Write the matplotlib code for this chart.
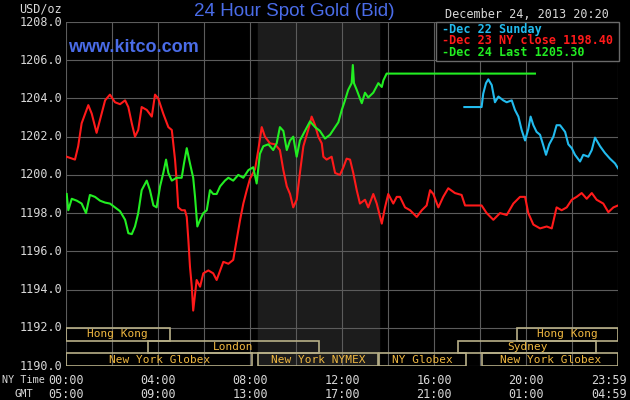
import matplotlib
matplotlib.use("Agg")
import matplotlib.pyplot as plt
from matplotlib.patches import Rectangle
import matplotlib.transforms as mtransforms

# hours since 00:00 NY time, price in USD/oz
dec23_t = [0.03, 0.39, 0.53, 0.68, 0.97, 1.12, 1.33, 1.55, 1.70, 1.91, 2.13, 2.35, 2.57, 2.71,
           2.86, 3.0, 3.14, 3.29, 3.51, 3.73, 3.87, 4.01, 4.23, 4.45, 4.60, 4.74, 4.81, 4.88,
           5.03, 5.17, 5.25, 5.32, 5.39, 5.47, 5.53, 5.68, 5.83, 5.97, 6.19, 6.40, 6.55, 6.70,
           6.84, 7.06, 7.27, 7.42, 7.57, 7.71, 7.86, 8.0, 8.22, 8.36, 8.51, 8.65, 8.87, 9.09,
           9.30, 9.45, 9.60, 9.74, 9.88, 10.03, 10.17, 10.32, 10.53, 10.68, 10.83, 10.97, 11.12,
           11.19, 11.33, 11.55, 11.70, 11.91, 12.06, 12.20, 12.35, 12.49, 12.64, 12.78, 13.0,
           13.14, 13.36, 13.51, 13.73, 13.87, 14.01, 14.23, 14.38, 14.52, 14.74, 14.96, 15.25,
           15.47, 15.68, 15.83, 15.97, 16.19, 16.40, 16.62, 16.91, 17.20, 17.35, 18.07, 18.29,
           18.58, 18.87, 19.16, 19.45, 19.74, 19.96, 20.10, 20.32, 20.61, 20.90, 21.12, 21.33,
           21.55, 21.77, 21.99, 22.20, 22.42, 22.64, 22.86, 23.07, 23.36, 23.58, 23.80, 24.0]
dec23_v = [1200.95, 1200.8, 1201.5, 1202.7, 1203.65, 1203.2, 1202.2, 1203.2, 1203.9, 1204.2,
           1203.8, 1203.7, 1203.9, 1203.55, 1202.7, 1202.0, 1202.35, 1203.55, 1203.4, 1203.05,
           1204.2, 1204.0, 1203.2, 1202.5, 1202.35, 1200.8, 1199.7, 1198.3, 1198.15, 1198.15,
           1197.8, 1196.6, 1195.2, 1194.15, 1192.9, 1194.5, 1194.15, 1194.85, 1195.0, 1194.85,
           1194.5, 1195.0, 1195.45, 1195.35, 1195.55, 1196.6, 1197.65, 1198.5, 1199.2, 1199.8,
           1200.3, 1201.3, 1202.5, 1202.0, 1201.65, 1201.6, 1201.3, 1200.25, 1199.4, 1199.0,
           1198.3, 1198.7, 1200.1, 1201.5, 1202.35, 1203.05, 1202.6, 1202.0, 1201.65, 1200.95,
           1200.8, 1200.95, 1200.1, 1200.0, 1200.4, 1200.85, 1200.8, 1200.1, 1199.2, 1198.5,
           1198.7, 1198.3, 1199.0, 1198.5, 1197.45, 1198.3, 1199.0, 1198.5, 1198.85, 1198.85,
           1198.3, 1198.15, 1197.8, 1198.15, 1198.4, 1199.2, 1199.0, 1198.3, 1198.85, 1199.3,
           1199.05, 1198.95, 1198.4, 1198.4, 1198.0, 1197.65, 1198.0, 1197.9, 1198.5, 1198.85,
           1198.85, 1198.0, 1197.4, 1197.2, 1197.3, 1197.2, 1198.3, 1198.15, 1198.3, 1198.7,
           1198.85, 1199.05, 1198.75, 1199.05, 1198.7, 1198.5, 1198.05, 1198.3, 1198.4]

dec24_t = [0.03, 0.10, 0.25, 0.47, 0.68, 0.87, 1.04, 1.26, 1.48, 1.70, 1.91, 2.13, 2.35, 2.57,
           2.71, 2.86, 3.0, 3.14, 3.29, 3.51, 3.65, 3.80, 3.94, 4.09, 4.23, 4.35, 4.45, 4.60,
           4.81, 5.03, 5.13, 5.25, 5.39, 5.53, 5.61, 5.71, 5.83, 5.97, 6.12, 6.26, 6.40, 6.55,
           6.70, 6.91, 7.06, 7.27, 7.49, 7.71, 7.93, 8.14, 8.29, 8.43, 8.58, 8.80, 9.01, 9.16,
           9.30, 9.45, 9.60, 9.74, 9.88, 10.03, 10.17, 10.39, 10.61, 10.83, 11.04, 11.26, 11.48,
           11.70, 11.84, 11.99, 12.13, 12.27, 12.42, 12.47, 12.52, 12.64, 12.78, 12.86, 13.0,
           13.14, 13.36, 13.58, 13.73, 13.80, 13.94, 20.39]
dec24_v = [1199.0, 1198.15, 1198.75, 1198.65, 1198.5, 1198.0, 1198.95, 1198.85, 1198.65,
           1198.55, 1198.5, 1198.3, 1198.1, 1197.65, 1196.95, 1196.9, 1197.3, 1198.0, 1199.2,
           1199.7, 1199.2, 1198.4, 1198.3, 1199.4, 1200.1, 1200.8, 1200.1, 1199.7, 1199.85,
           1199.85, 1200.6, 1201.4, 1200.6, 1199.85, 1198.85, 1197.3, 1197.65, 1198.0, 1198.15,
           1199.2, 1199.0, 1199.0, 1199.4, 1199.7, 1199.85, 1199.7, 1200.0, 1199.85, 1200.25,
           1200.4, 1199.55, 1201.1, 1201.5, 1201.6, 1201.3, 1201.65, 1202.5, 1202.3, 1201.3,
           1201.8, 1202.0, 1200.95, 1201.8, 1202.3, 1202.8, 1202.5, 1202.3, 1201.9, 1202.1,
           1202.5, 1202.75, 1203.4, 1203.9, 1204.45, 1204.8, 1205.75, 1204.8, 1204.45, 1204.0,
           1203.75, 1204.3, 1204.05, 1204.3, 1204.8, 1204.6, 1204.95, 1205.3, 1205.3]

dec22_t = [17.32, 18.07, 18.14, 18.26, 18.36, 18.51, 18.65, 18.80, 19.01, 19.16, 19.38, 19.52,
           19.67, 19.81, 19.96, 20.10, 20.20, 20.32, 20.46, 20.61, 20.75, 20.87, 21.01, 21.19,
           21.33, 21.48, 21.70, 21.84, 21.99, 22.13, 22.35, 22.49, 22.71, 22.86, 23.0, 23.22,
           23.43, 23.65, 23.87, 24.0]
dec22_v = [1203.55, 1203.55, 1204.25, 1204.8, 1205.0, 1204.7, 1203.8, 1204.1, 1203.9, 1203.8,
           1203.9, 1203.4, 1203.05, 1202.35, 1201.8, 1202.4, 1203.05, 1202.6, 1202.25, 1202.1,
           1201.55, 1201.05, 1201.6, 1202.0, 1202.6, 1202.6, 1202.25, 1201.6, 1201.4, 1201.05,
           1200.7, 1201.05, 1200.95, 1201.3, 1201.95, 1201.5, 1201.15, 1200.85, 1200.6, 1200.35]

y_ticks = [1190, 1192, 1194, 1196, 1198, 1200, 1202, 1204, 1206, 1208]
x_ticks = [0, 4, 8, 12, 16, 20, 23.6]
ny_labels = ['00:00', '04:00', '08:00', '12:00', '16:00', '20:00', '23:59']
gmt_labels = ['05:00', '09:00', '13:00', '17:00', '21:00', '01:00', '04:59']

# trading sessions: name, row (0 = top), start, end
sessions = [
    ('Hong Kong', 0, 0.0, 4.5),
    ('Hong Kong', 0, 19.6, 24.0),
    ('London', 1, 3.55, 11.0),
    ('Sydney', 1, 17.05, 23.05),
    ('New York Globex', 2, 0.0, 8.1),
    ('New York NYMEX', 2, 8.35, 13.55),
    ('NY Globex', 2, 13.6, 17.4),
    ('New York Globex', 2, 18.1, 24.0),
]

mono = 'DejaVu Sans Mono'
grey_txt = '#d8d8d8'

fig = plt.figure(figsize=(6.3, 4.0), dpi=100, facecolor='black')
ax = fig.add_axes([66/630, 1 - 366/400, 552/630, 344/400])
ax.set_facecolor('black')
ax.set_xlim(0, 24)
ax.set_ylim(1190, 1208)

# NYMEX open shading
ax.axvspan(8.33, 13.6, color='#1c1c1c', zorder=0)

for gx in range(0, 25, 2):
    ax.axvline(gx, color='#5c5c5c', lw=0.8, zorder=1)
for gy in y_ticks:
    ax.axhline(gy, color='#5c5c5c', lw=0.8, zorder=1)

for s in ax.spines.values():
    s.set_visible(False)
ax.set_xticks([])
ax.set_yticks([])

ax.plot(dec23_t, dec23_v, color='#ff1a1a', lw=1.5, zorder=3)
ax.plot(dec24_t, dec24_v, color='#22ee22', lw=1.5, zorder=4)
ax.plot(dec22_t, dec22_v, color='#22bbee', lw=1.5, zorder=4)

# session boxes
row_h = 2 / 3
for name, row, t0, t1 in sessions:
    y0 = 1192 - (row + 1) * row_h
    ax.add_patch(Rectangle((t0, y0), t1 - t0, row_h, fill=False,
                           edgecolor='#b8b088', lw=1.2, zorder=5))
    ax.text((t0 + t1) / 2, y0 + row_h / 2, name, color='#f0b840', family=mono,
            fontsize=8, ha='center', va='center', zorder=6)

# y labels
for v in y_ticks:
    ax.text(-0.15, v, f'{v:.1f}', color=grey_txt, family=mono, fontsize=8.5,
            ha='right', va='center', transform=ax.transData, clip_on=False)
fig.text(62/630, 1 - 9/400, 'USD/oz', color=grey_txt, family=mono, fontsize=8.5,
         ha='right', va='center')

# x labels
trans = mtransforms.blended_transform_factory(ax.transData, ax.transAxes)
for t, a, b in zip(x_ticks, ny_labels, gmt_labels):
    ax.text(t, -0.042, a, color=grey_txt, family=mono, fontsize=8.5,
            ha='center', va='center', transform=trans, clip_on=False)
    ax.text(t, -0.082, b, color=grey_txt, family=mono, fontsize=8.5,
            ha='center', va='center', transform=trans, clip_on=False)
fig.text(2/630, 1 - 380/400, 'NY Time', color=grey_txt, family=mono, fontsize=7.3,
         ha='left', va='center')
fig.text(24/630, 1 - 394/400, 'GMT', color=grey_txt, family=mono, fontsize=7.5,
         ha='center', va='center')

# titles
fig.text(294/630, 1 - 12/400, '24 Hour Spot Gold (Bid)', color='#4a6ce8',
         family='Liberation Sans', fontsize=13.6, ha='center', va='center')
fig.text(68/630, 1 - 48/400, 'www.kitco.com', color='#4a6ce8',
         family='Liberation Sans', fontsize=13, weight='bold', ha='left', va='center')
fig.text(527/630, 1 - 15/400, 'December 24, 2013 20:20', color=grey_txt, family=mono,
         fontsize=8.5, ha='center', va='center')

# legend box
lg = Rectangle((436/630, 1 - 61/400), 183/630, 39/400, transform=fig.transFigure,
               facecolor='black', edgecolor='#6a6a6a', lw=1.0, zorder=10)
fig.patches.append(lg)
legend_items = [('-Dec 22 Sunday', '#22bbee'),
                ('-Dec 23 NY close 1198.40', '#ff1a1a'),
                ('-Dec 24 Last 1205.30', '#22ee22')]
for i, (txt, col) in enumerate(legend_items):
    fig.text(442/630, 1 - (29 + 12 * i)/400, txt, color=col, family=mono, fontsize=8.5,
             weight='bold', ha='left', va='center', zorder=11)

fig.savefig('out.png', dpi=100, facecolor='black')
